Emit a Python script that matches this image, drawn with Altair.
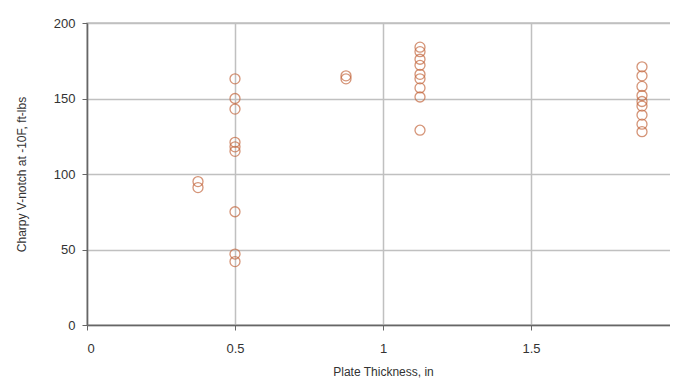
import altair as alt
import pandas as pd

thickness = [0.375, 0.375,
             0.5, 0.5, 0.5, 0.5, 0.5, 0.5, 0.5, 0.5, 0.5,
             0.875, 0.875,
             1.125, 1.125, 1.125, 1.125, 1.125, 1.125, 1.125, 1.125, 1.125,
             1.875, 1.875, 1.875, 1.875, 1.875, 1.875, 1.875, 1.875, 1.875]
charpy = [95, 91,
          163, 150, 143, 121, 118, 115, 75, 47, 42,
          165, 163,
          184, 181, 176, 172, 166, 163, 157, 151, 129,
          171, 165, 158, 152, 148, 145, 139, 133, 128]

df = pd.DataFrame({"t": thickness, "cv": charpy})

chart = alt.Chart(df).mark_point(
    shape="circle", filled=False, color="#c4683f", size=100, strokeWidth=1.3
).encode(
    x=alt.X("t:Q", title="Plate Thickness, in",
            scale=alt.Scale(domain=[0, 2], nice=False),
            axis=alt.Axis(values=[0, 0.5, 1, 1.5, 2], format="~g")),
    y=alt.Y("cv:Q", title="Charpy V-notch at -10F, ft-lbs",
            scale=alt.Scale(domain=[0, 200], nice=False),
            axis=alt.Axis(values=[0, 50, 100, 150, 200])),
).properties(
    width=592, height=302,
    autosize=alt.AutoSizeParams(type="none"),
    padding={"left": 79, "top": 15, "right": -9, "bottom": 53},
).configure_view(
    stroke="#c0c0c0", strokeWidth=1.5
).configure_axis(
    gridColor="#c0c0c0", gridWidth=1.5,
    domainColor="#666666", domainWidth=1.5,
    tickColor="#666666", tickSize=5,
    labelFont="Liberation Sans", labelFontSize=13, labelColor="#333333",
    titleFont="Liberation Sans", titleFontSize=12, titleColor="#333333",
    titleFontWeight="normal",
).configure_axisX(
    labelPadding=12, titlePadding=11
).configure_axisY(
    labelPadding=7, titlePadding=25
)

chart.save("out.html", embed_options={"renderer": "svg", "actions": False})
